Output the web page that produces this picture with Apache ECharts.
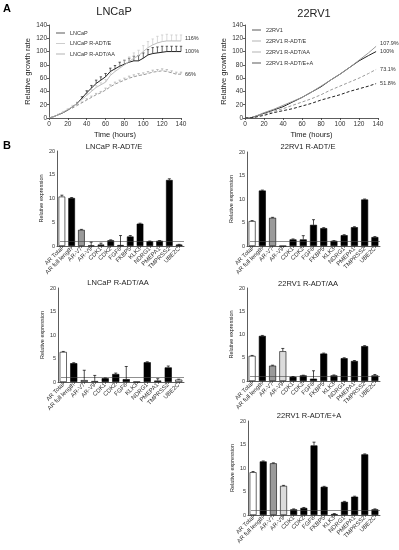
<!DOCTYPE html>
<html><head><meta charset="utf-8">
<script src="https://cdn.jsdelivr.net/npm/echarts@6/dist/echarts.min.js"></script>
<style>html,body{margin:0;padding:0;background:#fff}#c{width:399px;height:550px}</style>
</head><body><div id="c"></div>
<script>
// ---------- Panel A data ----------
const timeL = [0,5,10,15,20,25,30,35,40,45,50,55,60,65,70,75,80,85,90,95,100,105,110,115,120,125,130,135,140];
const lncap      = [0,2,5,8,12,17,22,30,38,45,52,57,62,70,74,78,81,84,86,86,90,95,97,98,99,100,100,100,100];
const lncapErr   = [0,0,0,0,0,0,1,2,3,4,5,5,5,5,5,6,6,6,7,8,8,8,9,9,9,8,8,8,8];
const lncapE     = [0,2,5,9,13,17,22,28,34,40,46,50,54,64,70,75,80,85,90,94,100,106,110,113,115,116,116,116,116];
const lncapEErr  = [0,0,1,1,1,2,2,2,3,3,3,3,4,4,5,6,6,7,8,8,9,9,9,10,10,10,9,9,9];
const lncapAA    = [0,2,5,8,12,15,19,23,27,31,35,38,42,47,51,54,57,60,62,64,65,67,69,70,71,70,68,66,66];
const lncapAAErr = [0,0,0,0,0,1,1,1,2,2,2,2,3,3,3,3,3,3,3,3,3,3,3,3,3,3,3,3,3];

const timeR = [0,5,10,20,30,40,50,60,70,80,90,100,110,120,130,138];
const rv1    = [0,0,2,7,12,17,24,31,39,47,57,66,76,86,94,100];
const rv1E   = [0,0,2,8,13,19,25,31,39,48,57,66,76,87,98,107.9];
const rv1AA  = [0,0,2,6,10,14,19,24,29,35,42,48,54,60,67,73.1];
const rv1EA  = [0,0,1,4,8,11,14,18,22,27,31,35,40,44,48,51.8];

// ---------- Panel B data ----------
const genes   = ["AR Total","AR full length","AR-V7","AR-V9","CDK1","CDK2","FGF8","FKBP5","KLK3","NDRG1","PMEPA1","TMPRSS2","UBE2C"];
const genesAA = ["AR Total","AR full length","AR-V7","AR-V9","CDK1","CDK2","FGF8","KLK3","NDRG1","PMEPA1","TMPRSS2","UBE2C"];
const lnE     = [10.4,10.1,3.4,0.1,0.3,1.2,0.2,2.0,4.7,1.0,1.1,13.9,0.3];
const lnEErr  = [0.3,0.1,0.1,0.7,0.3,0.1,2.0,0.2,0.1,0.05,0.05,0.25,0.05];
const rvE     = [5.3,11.8,6.0,0,1.4,1.4,4.5,3.8,1.1,2.3,4.0,9.9,1.9];
const rvEErr  = [0.1,0.1,0.1,0,0.1,0.8,1.1,0.1,0.05,0.1,0.1,0.1,0.1];
const lnAA    = [6.4,4.0,0.4,0.2,0.8,1.7,0.6,0.05,4.2,0.3,3.1,0.5];
const lnAAErr = [0.1,0.1,2.1,1.2,0.05,0.2,2.7,0,0.1,0.4,0.3,0.1];
const rvAA    = [5.4,9.7,3.3,6.4,0.9,1.2,0.5,5.9,1.2,4.9,4.3,7.5,1.2];
const rvAAErr = [0.1,0.1,0.1,0.6,0.05,0.05,1.7,0.1,0.1,0.1,0.1,0.1,0.2];
const rvEA    = [9.1,11.4,11.0,6.2,1.2,1.5,14.8,6.0,0.2,2.8,3.9,12.9,1.2];
const rvEAErr = [0.15,0.1,0.1,0.1,0.1,0.1,0.7,0.1,0.1,0.1,0.1,0.1,0.1];

const FONT = 'Liberation Sans';
const chart = echarts.init(document.getElementById('c'));

function pairs(xs, ys){ return xs.map((x,i)=>[x, ys[i]]); }
function triples(xs, ys, es){ return xs.map((x,i)=>[x, ys[i], es[i]]); }

function errRender(color, capW){
  return function(params, api){
    const e = api.value(2);
    if (!e) return null;
    const p0 = api.coord([api.value(0), api.value(1)]);
    const p1 = api.coord([api.value(0), api.value(1) + e]);
    return {type:'group', children:[
      {type:'line', shape:{x1:p0[0],y1:p0[1],x2:p1[0],y2:p1[1]}, style:{stroke:color, lineWidth:0.7}},
      {type:'line', shape:{x1:p1[0]-capW,y1:p1[1],x2:p1[0]+capW,y2:p1[1]}, style:{stroke:color, lineWidth:0.7}}
    ]};
  };
}

const grids = [
  {left:49, top:25, width:132, height:93},
  {left:245, top:25, width:133, height:93},
  {left:57, top:151, width:127, height:95},
  {left:247, top:152, width:133, height:94},
  {left:58, top:288, width:126, height:94},
  {left:247, top:288, width:133, height:93},
  {left:248, top:421, width:132, height:94}
];

const axisLine = {lineStyle:{color:'#333', width:0.8}};
const axisTick = {length:2, lineStyle:{color:'#333', width:0.8}};
const xAxes = [], yAxes = [];
[0,1].forEach(i=>{
  xAxes.push({gridIndex:i, type:'value', min:0, max:140, interval:20, axisLine:{show:true, ...axisLine}, axisTick,
    splitLine:{show:false}, axisLabel:{fontSize:6.5, fontFamily:FONT, color:'#333', margin:3},
    name:'Time (hours)', nameLocation:'middle', nameGap:13, nameTextStyle:{fontSize:7.5, fontFamily:FONT, color:'#222'}});
  yAxes.push({gridIndex:i, type:'value', min:0, max:140, interval:20, axisLine:{show:true, ...axisLine}, axisTick,
    splitLine:{show:false}, axisLabel:{fontSize:6.5, fontFamily:FONT, color:'#333', margin:2},
    name:'Relative growth rate', nameLocation:'middle', nameGap:14, nameTextStyle:{fontSize:7.5, fontFamily:FONT, color:'#222'}});
});
const catLists = [genes, genes, genesAA, genes, genes];
for (let i=2;i<7;i++){
  xAxes.push({gridIndex:i, type:'category', data:catLists[i-2], axisLine:{show:true, ...axisLine}, axisTick:{show:true, length:2, alignWithLabel:true, lineStyle:{color:'#333', width:0.6}},
    axisLabel:{fontSize:6, fontFamily:FONT, color:'#333', rotate:45, interval:0, margin:2}});
  yAxes.push({gridIndex:i, type:'value', min:0, max:20, interval:5, axisLine:{show:true, ...axisLine}, axisTick,
    splitLine:{show:false}, axisLabel:{fontSize:5.5, fontFamily:FONT, color:'#333', margin:2},
    name:'Relative expression', nameLocation:'middle', nameGap:12, nameTextStyle:{fontSize:5.5, fontFamily:FONT, color:'#222'}});
}

const geneColor = {"AR Total":'#ffffff', "AR full length":'#000000', "AR-V7":'#9a9a9a', "AR-V9":'#dcdcdc'};
const series = [];

function lineSeries(name, idx, data, color, dashed, labelOffset){
  return {name, type:'line', xAxisIndex:idx, yAxisIndex:idx, data, symbol:'none', smooth:false,
    lineStyle:{color, width:1, type: dashed ? [3,2] : 'solid'}, itemStyle:{color},
    endLabel:{show:true, formatter: p => p.value[1] + '%', fontSize:5.5, fontFamily:FONT, color:'#333', distance:4, offset: labelOffset || [0,0]},
    z:3};
}
series.push(lineSeries('LNCaP', 0, pairs(timeL, lncap), '#222', false, [0,0]));
series.push(lineSeries('LNCaP R-ADT/E', 0, pairs(timeL, lncapE), '#bdbdbd', false, [0,-2]));
series.push(lineSeries('LNCaP R-ADT/AA', 0, pairs(timeL, lncapAA), '#9a9a9a', true, [0,0]));
series.push({type:'custom', xAxisIndex:0, yAxisIndex:0, renderItem:errRender('#222',1.2), data:triples(timeL, lncap, lncapErr), z:2});
series.push({type:'custom', xAxisIndex:0, yAxisIndex:0, renderItem:errRender('#c8c8c8',1.2), data:triples(timeL, lncapE, lncapEErr), z:2});
series.push({type:'custom', xAxisIndex:0, yAxisIndex:0, renderItem:errRender('#aaaaaa',1.2), data:triples(timeL, lncapAA, lncapAAErr), z:2});

series.push(lineSeries('22RV1', 1, pairs(timeR, rv1), '#222', false, [0,0]));
series.push(lineSeries('22RV1 R-ADT/E', 1, pairs(timeR, rv1E), '#9a9a9a', false, [0,-3]));
series.push(lineSeries('22RV1 R-ADT/AA', 1, pairs(timeR, rv1AA), '#9a9a9a', true, [0,0]));
series.push(lineSeries('22RV1 R-ADT/E+A', 1, pairs(timeR, rv1EA), '#222', true, [0,0]));

const panels = [[lnE,lnEErr],[rvE,rvEErr],[lnAA,lnAAErr],[rvAA,rvAAErr],[rvEA,rvEAErr]];
panels.forEach((p,k)=>{
  const idx = k+2;
  const cats = catLists[k];
  const last = cats.length - 1;
  series.push({type:'bar', xAxisIndex:idx, yAxisIndex:idx, barWidth:'68%',
    data: p[0].map((v,i)=>{
      let c = geneColor[cats[i]] || '#000';
      if (k === 2 && cats[i] === 'UBE2C') c = '#e8e8e8';
      return {value:v, itemStyle:{color:c, borderColor:'#000', borderWidth:0.6}};
    }),
    markLine:{silent:true, symbol:'none', label:{show:false}, lineStyle:{color:'#444', width:0.6, type:'solid'},
      data:[[{coord:[0,1], x: grids[idx].left + 3},{coord:[last,1], x: grids[idx].left + grids[idx].width}]]}});
  series.push({type:'custom', xAxisIndex:idx, yAxisIndex:idx, renderItem:errRender('#000',1.5),
    data: p[0].map((v,i)=>[i, v, p[1][i]]), z:5});
});

const legendCommon = {orient:'vertical', itemWidth:9, itemHeight:4, itemGap:4,
  textStyle:{fontSize:5.5, fontFamily:FONT, color:'#333'}, icon:'path://M0,0 L12,0 L12,1 L0,1 Z'};

const option = {
  animation:false,
  backgroundColor:'#fff',
  grid: grids,
  xAxis: xAxes,
  yAxis: yAxes,
  legend:[
    {...legendCommon, left:51, top:25, itemGap:4.5, data:['LNCaP','LNCaP R-ADT/E','LNCaP R-ADT/AA']},
    {...legendCommon, left:247, top:22, itemGap:5, data:['22RV1','22RV1 R-ADT/E','22RV1 R-ADT/AA','22RV1 R-ADT/E+A']}
  ],
  graphic:[
    {type:'text', left:3, top:3, style:{text:'A', font:'bold 11px "Liberation Sans"', fill:'#000'}},
    {type:'text', left:3, top:140, style:{text:'B', font:'bold 11px "Liberation Sans"', fill:'#000'}},
    {type:'text', x:114, y:6, style:{text:'LNCaP', font:'11px "Liberation Sans"', fill:'#222', textAlign:'center'}},
    {type:'text', x:314, y:8, style:{text:'22RV1', font:'11px "Liberation Sans"', fill:'#222', textAlign:'center'}},
    {type:'text', x:114, y:143, style:{text:'LNCaP R-ADT/E', font:'7.5px "Liberation Sans"', fill:'#222', textAlign:'center'}},
    {type:'text', x:308, y:143, style:{text:'22RV1 R-ADT/E', font:'7.5px "Liberation Sans"', fill:'#222', textAlign:'center'}},
    {type:'text', x:118, y:279, style:{text:'LNCaP R-ADT/AA', font:'7.5px "Liberation Sans"', fill:'#222', textAlign:'center'}},
    {type:'text', x:308, y:280, style:{text:'22RV1 R-ADT/AA', font:'7.5px "Liberation Sans"', fill:'#222', textAlign:'center'}},
    {type:'text', x:309, y:412, style:{text:'22RV1 R-ADT/E+A', font:'7.5px "Liberation Sans"', fill:'#222', textAlign:'center'}}
  ],
  series
};
chart.setOption(option);
</script>
</body></html>
